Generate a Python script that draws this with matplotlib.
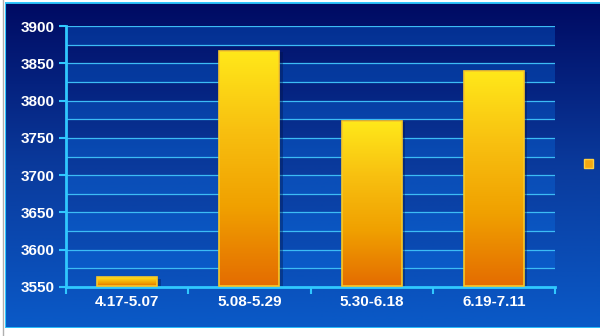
import matplotlib.pyplot as plt
import numpy as np
from matplotlib.colors import LinearSegmentedColormap
from matplotlib.patches import Rectangle

plt.rcParams['font.family'] = ['Liberation Sans', 'DejaVu Sans']

categories = ['4.17-5.07', '5.08-5.29', '5.30-6.18', '6.19-7.11']
values = [3563, 3867, 3773, 3840]
y_ticks = [3550, 3600, 3650, 3700, 3750, 3800, 3850, 3900]
y_min, y_max = 3550, 3900

fig = plt.figure(figsize=(6.0, 3.36), dpi=100)
fig.patch.set_facecolor('white')
fig.add_artist(plt.Line2D([2.5/600, 2.5/600], [0, 1], color='#b0b0b0', lw=1))

# background gradient panel
bg = fig.add_axes([5/600, 8/336, 595/600, 326/336], zorder=0)
bg_cmap = LinearSegmentedColormap.from_list('bg', ['#000a62', '#0a3a9c', '#0a5ac8'])
bg.imshow(np.linspace(0, 1, 256).reshape(-1, 1), aspect='auto', cmap=bg_cmap,
          extent=[0, 1, 0, 1], origin='upper')
bg.axhline(1, color='#30c8ff', lw=2)
bg.axhline(0, color='#30c8ff', lw=2)
bg.axvline(0, color='#30c8ff', lw=1.5)
bg.set_axis_off()

ax = fig.add_axes([66/600, 49/336, 489/600, 261/336], zorder=1)
ax.patch.set_alpha(0)

x = np.arange(len(categories))
ax.set_xlim(-0.5, len(categories) - 0.5)
ax.set_ylim(y_min, y_max)

# banded background and grid lines
for lo in np.arange(y_min, y_max, 50):
    ax.axhspan(lo + 25, lo + 50, color='#0a78f0', alpha=0.3, lw=0, zorder=0)
for yv in np.arange(y_min + 25, y_max + 1, 25):
    ax.axhline(yv, color='#3cbcf5', lw=0.9, zorder=1)

# gradient bars
bar_cmap = LinearSegmentedColormap.from_list('bar', ['#ffe81a', '#f8c010', '#f0a000', '#e46c00'])
grad = np.linspace(0, 1, 256).reshape(-1, 1)
width = 0.49
base = 3552
for xi, v in zip(x, values):
    shadow = Rectangle((xi - width/2 + 0.03, base - 2), width, v - base, facecolor='#001040',
                       alpha=0.35, lw=0, zorder=2)
    ax.add_patch(shadow)
    im = ax.imshow(grad, aspect='auto', cmap=bar_cmap, origin='upper',
                   extent=[xi - width/2, xi + width/2, base, v], zorder=3)
    rect = Rectangle((xi - width/2, base), width, v - base, facecolor='none',
                     edgecolor='#f8c828', lw=1.2, zorder=4)
    ax.add_patch(rect)
    im.set_clip_path(rect)

ax.set_xticks(x)
ax.set_xticklabels(categories)
ax.set_xticks(np.arange(-0.5, len(categories)), minor=True)
ax.tick_params(axis='x', which='major', length=0, pad=6)
ax.tick_params(axis='x', which='minor', length=5, width=1.5, color='#30c8ff', direction='out')
ax.set_yticks(y_ticks)
ax.tick_params(axis='y', length=5, width=1.5, color='#30c8ff', direction='out', pad=3)
for lab in ax.get_xticklabels() + ax.get_yticklabels():
    lab.set_color('white')
    lab.set_fontweight('bold')
    lab.set_fontsize(11)

for s in ['top', 'right']:
    ax.spines[s].set_visible(False)
for s in ['left', 'bottom']:
    ax.spines[s].set_color('#30c8ff')
    ax.spines[s].set_linewidth(2)

# legend marker with no text
fig.patches.append(Rectangle((584/600, 1 - 168/336), 9/600, 9/336, transform=fig.transFigure,
                             facecolor='#f5a810', edgecolor='#ffd040', lw=1, zorder=5))

fig.savefig('out.png', dpi=100)
